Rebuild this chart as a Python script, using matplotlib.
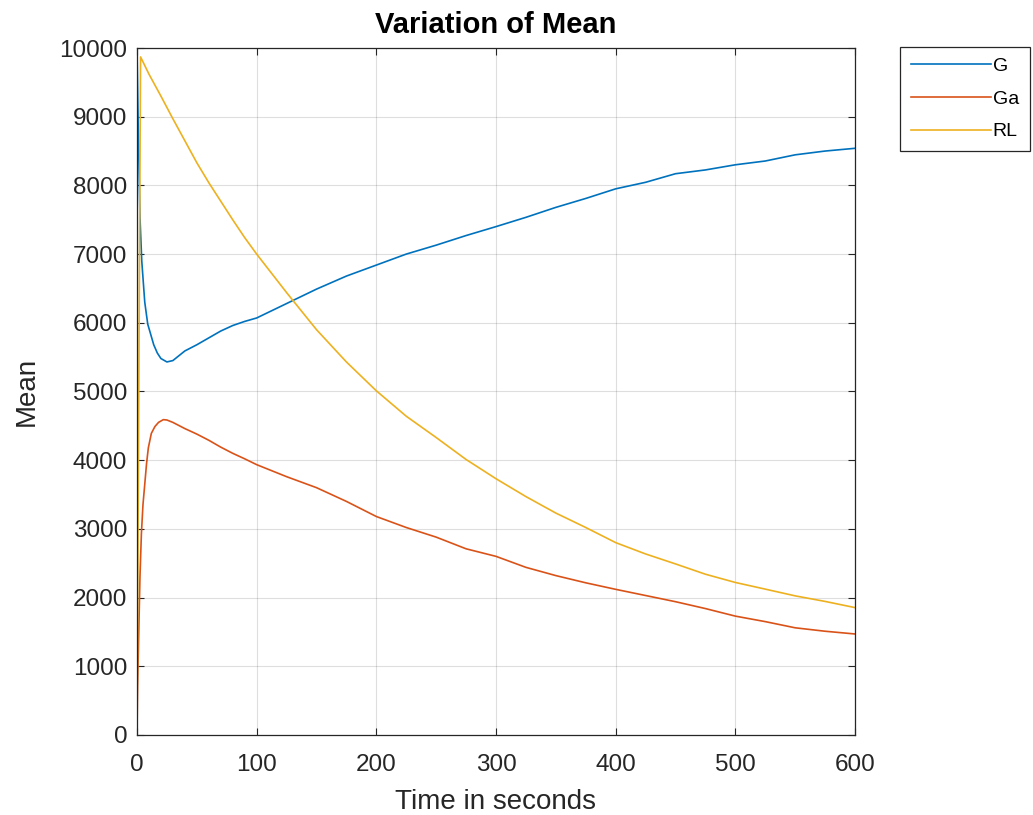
import matplotlib
matplotlib.use("agg")
import matplotlib.pyplot as plt

# values
t_g = [0, 1, 2.5, 4, 6.5, 9, 11, 14, 17, 20, 25, 30, 40, 50, 60, 70, 80, 90,
       100, 125, 150, 175, 200, 225, 250, 275, 300, 325, 350, 375, 400, 425,
       450, 475, 500, 525, 550, 575, 600]
g_mean = [10000, 8900, 7540, 6900, 6300, 5980, 5860, 5680, 5560, 5480, 5430,
          5450, 5590, 5680, 5780, 5880, 5960, 6020, 6070, 6280, 6490, 6680,
          6840, 7000, 7130, 7270, 7400, 7535, 7680, 7810, 7950, 8045, 8170,
          8225, 8300, 8355, 8445, 8500, 8540]

t_ga = [0, 0.5, 1.5, 2.5, 3.7, 5, 6.5, 8, 9.5, 12, 15, 18, 22, 25, 30, 40, 50,
        60, 70, 80, 90, 100, 125, 150, 175, 200, 225, 250, 275, 300, 325, 350,
        375, 400, 425, 450, 475, 500, 525, 550, 575, 600]
ga_mean = [0, 700, 1500, 2300, 2930, 3350, 3650, 3950, 4180, 4390, 4490, 4550,
           4590, 4585, 4550, 4460, 4380, 4290, 4190, 4100, 4020, 3935, 3760,
           3600, 3400, 3180, 3020, 2880, 2710, 2600, 2440, 2320, 2215, 2120,
           2030, 1940, 1840, 1730, 1650, 1560, 1510, 1470]

t_rl = [0, 3, 10, 20, 30, 40, 50, 60, 70, 80, 90, 100, 125, 150, 175, 200, 225,
        250, 275, 300, 325, 350, 375, 400, 425, 450, 475, 500, 525, 550, 575,
        600]
rl_mean = [0, 9870, 9620, 9300, 8970, 8650, 8330, 8040, 7770, 7500, 7240, 7000,
           6440, 5900, 5430, 5010, 4640, 4330, 4010, 3730, 3470, 3230, 3020,
           2800, 2635, 2490, 2340, 2220, 2123, 2025, 1944, 1854]

series_names = ["G", "Ga", "RL"]

plt.rcParams["font.family"] = ["Liberation Sans", "DejaVu Sans"]

fig = plt.figure(figsize=(10.33, 8.15), dpi=100)
ax = fig.add_axes([0.1326, 0.0982, 0.6951, 0.8429])

ax.plot(t_g, g_mean, color="#0072BD", lw=1.2, label=series_names[0])
ax.plot(t_ga, ga_mean, color="#D95319", lw=1.2, label=series_names[1])
ax.plot(t_rl, rl_mean, color="#EDB120", lw=1.2, label=series_names[2])

ax.set_xlim(0, 600)
ax.set_ylim(0, 10000)
ax.set_xticks(range(0, 601, 100))
ax.set_yticks(range(0, 10001, 1000))
ax.grid(True, color="#262626", alpha=0.15, lw=0.8)
ax.set_axisbelow(True)

ax.tick_params(direction="in", length=5, width=0.8, colors="#262626",
               labelsize=17.5, top=True, right=True)
ax.tick_params(axis="x", pad=14)
ax.tick_params(axis="y", pad=7)
for sp in ax.spines.values():
    sp.set_color("#262626")
    sp.set_linewidth(0.9)

ax.set_title("Variation of Mean", fontsize=21, fontweight="bold", pad=11)
ax.set_xlabel("Time in seconds", fontsize=20, color="#262626", labelpad=9)
ax.set_ylabel("Mean", fontsize=20, color="#262626", labelpad=14)

leg = ax.legend(loc="upper left", bbox_to_anchor=(1.063, 1.002),
                borderaxespad=0, fontsize=14, handlelength=4.1,
                handletextpad=0.1, fancybox=False, framealpha=1,
                labelspacing=0.78, borderpad=0.55)
leg.get_frame().set_edgecolor("#262626")
leg.get_frame().set_linewidth(0.9)

fig.savefig("out.png", dpi=100)
